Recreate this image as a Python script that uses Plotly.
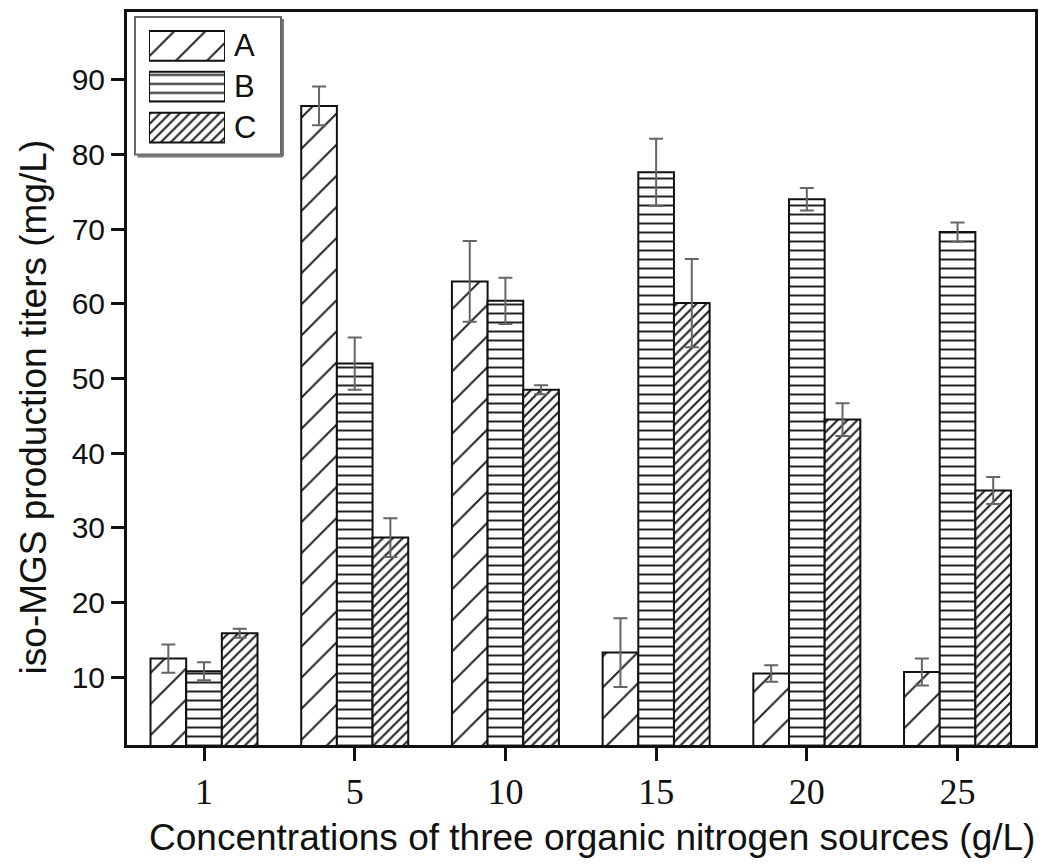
import plotly.graph_objects as go

categories = ["1", "5", "10", "15", "20", "25"]
series_names = ["A", "B", "C"]
values_A = [12.5, 86.5, 63.0, 13.3, 10.5, 10.7]
values_B = [10.8, 52.0, 60.4, 77.6, 74.0, 69.6]
values_C = [15.9, 28.7, 48.5, 60.1, 44.5, 35.0]
err_A = [1.9, 2.6, 5.4, 4.6, 1.1, 1.8]
err_B = [1.2, 3.5, 3.1, 4.5, 1.5, 1.3]
err_C = [0.6, 2.6, 0.6, 5.9, 2.2, 1.8]
legend_len = [1, 1, 1]
x_title = "Concentrations of three organic nitrogen sources (g/L)"
y_title = "iso-MGS production titers (mg/L)"

patterns = {
    "A": dict(shape="/", size=22, solidity=0.09),
    "B": dict(shape="-", size=9, solidity=0.22),
    "C": dict(shape="/", size=7, solidity=0.3),
}


def marker_for(name):
    p = patterns[name]
    return dict(color="white", line=dict(color="#111", width=2),
                pattern=dict(shape=p["shape"], size=p["size"], solidity=p["solidity"],
                             fgcolor="#222", bgcolor="white", fillmode="replace"))


fig = go.Figure()
for name, vals, errs in zip(series_names, [values_A, values_B, values_C], [err_A, err_B, err_C]):
    fig.add_trace(go.Bar(
        x=categories, y=vals, name=name, showlegend=False,
        marker=marker_for(name),
        error_y=dict(type="data", array=errs, visible=True, color="#666", thickness=2, width=7),
    ))

# legend drawn as an inset bar chart
annotations = []
for name, L in zip(series_names, legend_len):
    fig.add_trace(go.Bar(
        x=[L], y=[name], orientation="h", xaxis="x2", yaxis="y2", showlegend=False,
        width=0.73, marker=marker_for(name), hoverinfo="skip",
    ))
    annotations.append(dict(x=L, y=name, xref="x2", yref="y2", text=name, showarrow=False,
                            xanchor="left", yanchor="middle", xshift=7,
                            font=dict(family="Liberation Sans", size=31, color="#111")))

annotations.append(dict(x=0.512, y=-0.1264, xref="paper", yref="paper", text=x_title,
                        showarrow=False, xanchor="center", yanchor="middle",
                        font=dict(family="Liberation Sans", size=37, color="#111")))
annotations.append(dict(x=-0.1035, y=0.4606, xref="paper", yref="paper", text=y_title,
                        showarrow=False, xanchor="center", yanchor="middle", textangle=-90,
                        font=dict(family="Liberation Sans", size=37, color="#111")))

fig.update_layout(
    width=1034, height=852,
    paper_bgcolor="white", plot_bgcolor="white",
    margin=dict(l=119, r=7, t=1, b=115),
    barmode="group", bargap=0.29, bargroupgap=0,
    font=dict(family="Liberation Sans", color="#111"),
    xaxis=dict(
        type="category", range=[-0.511, 5.514],
        showline=True, linecolor="#111", linewidth=3, mirror=True,
        ticks="outside", ticklen=13, tickwidth=3, tickcolor="#111",
        tickfont=dict(family="Liberation Serif", size=36, color="#111"),
        showgrid=False,
    ),
    yaxis=dict(
        range=[0.93, 99.07], tickvals=[10, 20, 30, 40, 50, 60, 70, 80, 90],
        showline=True, linecolor="#111", linewidth=3, mirror=True,
        ticks="outside", ticklen=13, tickwidth=3, tickcolor="#111",
        tickfont=dict(family="Liberation Sans", size=30, color="#111"),
        showgrid=False, zeroline=False,
    ),
    xaxis2=dict(domain=[0.0242, 0.1079], range=[0, 1], anchor="y2",
                visible=False, fixedrange=True),
    yaxis2=dict(domain=[0.8145, 0.9817], type="category", anchor="x2",
                categoryarray=series_names, range=[2.5, -0.5],
                visible=False, fixedrange=True),
    annotations=annotations,
    shapes=[
        dict(type="line", xref="x domain", yref="y domain", x0=0.0115, x1=0.1718,
             y0=0.8035, y1=0.8035, line=dict(color="#777", width=3)),
        dict(type="line", xref="x domain", yref="y domain", x0=0.1718, x1=0.1718,
             y0=0.8035, y1=0.9905, line=dict(color="#777", width=2)),
        dict(type="rect", xref="x domain", yref="y domain",
             x0=0.0088, x1=0.1696, y0=0.8057, y1=0.9932,
             line=dict(color="#666", width=2), fillcolor="white", layer="below"),
    ],
)

fig.write_html("out.html")
